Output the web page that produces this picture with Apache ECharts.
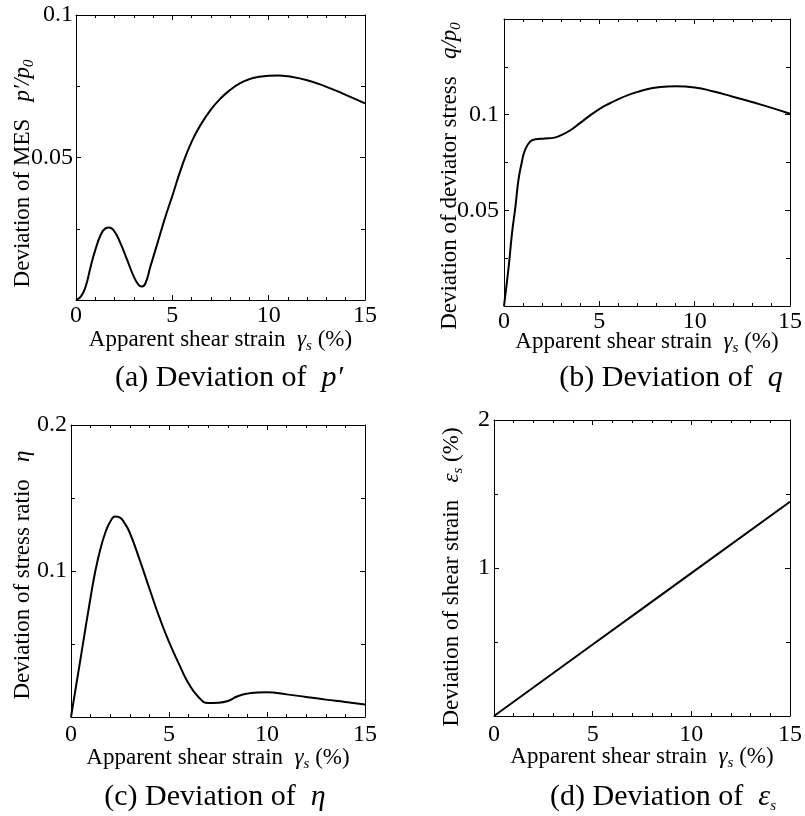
<!DOCTYPE html>
<html>
<head>
<meta charset="utf-8">
<script src="https://cdn.jsdelivr.net/npm/echarts@6/dist/echarts.min.js"></script>
<style>
html, body { margin: 0; padding: 0; background: #fff; }
#chart { width: 805px; height: 816px; }
</style>
</head>
<body>
<div id="chart"></div>
<script>
// deviation curves, x = apparent shear strain (%)
var meanStressDev = [
    [0, 0], [0.25, 0.0012], [0.5, 0.0047], [0.76, 0.0117], [1, 0.0175], [1.28, 0.0228],
    [1.53, 0.0251], [1.72, 0.0254], [2, 0.024], [2.31, 0.0199], [2.66, 0.014], [3, 0.0082],
    [3.25, 0.0053], [3.4, 0.0047], [3.6, 0.0058], [3.86, 0.0117], [4.12, 0.0175], [4.38, 0.0234],
    [4.64, 0.0292], [4.9, 0.0345], [5, 0.0365], [5.5, 0.047], [6, 0.0555], [6.5, 0.0618],
    [7, 0.0668], [7.5, 0.0707], [8, 0.0737], [8.5, 0.076], [9, 0.0775], [9.5, 0.0783],
    [10, 0.0787], [10.5, 0.0788], [11, 0.0785], [12, 0.0771], [13, 0.0748], [14, 0.072], [15, 0.069]
];
var deviatorDev = [
    [0, 0], [0.25, 0.021], [0.42, 0.038], [0.6, 0.052], [0.76, 0.066], [0.94, 0.0754],
    [1.1, 0.0815], [1.37, 0.0859], [1.65, 0.0871], [2.15, 0.0875], [2.65, 0.088], [3, 0.0893],
    [3.5, 0.092], [4, 0.0957], [4.5, 0.0995], [5, 0.1029], [5.5, 0.1057], [6, 0.1081],
    [6.5, 0.1102], [7, 0.1119], [7.5, 0.1133], [8, 0.1142], [9, 0.1148], [10, 0.1142],
    [11, 0.1121], [12, 0.1094], [13, 0.1066], [14, 0.1037], [15, 0.1005]
];
var stressRatioDev = [
    [0, 0], [0.5, 0.041], [1, 0.082], [1.25, 0.1005], [1.5, 0.115], [1.75, 0.1262],
    [2, 0.1337], [2.25, 0.1374], [2.5, 0.1366], [2.75, 0.1325], [3, 0.1262], [3.5, 0.1078],
    [4, 0.088], [4.5, 0.0686], [5, 0.0514], [5.5, 0.0366], [6, 0.0229], [6.5, 0.0137],
    [7, 0.0096], [7.5, 0.0098], [8, 0.011], [8.5, 0.0142], [9, 0.016], [9.5, 0.0167],
    [10, 0.0169], [11, 0.0155], [12, 0.0137], [13, 0.0119], [14, 0.0103], [15, 0.0085]
];
var shearStrainDev = [[0, 0], [5, 0.483], [10, 0.965], [15, 1.4475]];

var xTicks = [0, 5, 10, 15];
var captions = ['(a) Deviation of  ', '(b) Deviation of  ', '(c) Deviation of  ', '(d) Deviation of  '];

var serif = '"Liberation Serif", "Times New Roman", serif';
var rich = {
    t: { fontFamily: serif, fontSize: 23, color: '#000', lineHeight: 28 },
    i: { fontFamily: serif, fontStyle: 'italic', fontSize: 23, color: '#000', lineHeight: 28 },
    s: { fontFamily: serif, fontStyle: 'italic', fontSize: 15, color: '#000', lineHeight: 15, verticalAlign: 'bottom' }
};
var capRich = {
    t: { fontFamily: serif, fontSize: 30, color: '#000', lineHeight: 34 },
    i: { fontFamily: serif, fontStyle: 'italic', fontSize: 30, color: '#000', lineHeight: 34 },
    s: { fontFamily: serif, fontStyle: 'italic', fontSize: 15, color: '#000', lineHeight: 15, verticalAlign: 'bottom' }
};
var xTitle = '{t|Apparent shear strain  }{i|γ}{s|s}{t| (%)}';

var panels = [
    { grid: { left: 76, top: 15, width: 289, height: 285 }, data: meanStressDev,
      yMax: 0.1, yStep: 0.05, yName: '{t|Deviation of MES   }{i|p′/p}{s|0}', yGap: 39, yPad: [0, 32, 0, 0],
      yMargin: 3, xMargin: 4, xGap: 26, cap: { x: 229, y: 378, text: '{t|' + captions[0] + '}{i|p′}' } },
    { grid: { left: 504, top: 19, width: 288, height: 287 }, data: deviatorDev,
      yMax: 0.15, yStep: 0.05, yName: '{t|Deviation of deviator stress   }{i|q/p}{s|0}', yGap: 40, yPad: [0, 27, 0, 0],
      yMargin: 5, xMargin: 4, xGap: 22, cap: { x: 671, y: 378, text: '{t|' + captions[1] + '}{i|q}' } },
    { grid: { left: 71, top: 425, width: 294, height: 292 }, data: stressRatioDev,
      yMax: 0.2, yStep: 0.1, yName: '{t|Deviation of stress ratio   }{i|η}', yGap: 34, yPad: [0, 8, 0, 0],
      yMargin: 4, xMargin: 6, xGap: 27, cap: { x: 215, y: 797, text: '{t|' + captions[2] + '}{i|η}' } },
    { grid: { left: 494, top: 420, width: 297, height: 296 }, data: shearStrainDev,
      yMax: 2, yStep: 1, yName: '{t|Deviation of shear strain   }{i|ε}{s|s}{t| (%)}', yGap: 28, yPad: [0, 18, 0, 0],
      yMargin: 4, xMargin: 7, xGap: 27, cap: { x: 663, y: 797, text: '{t|' + captions[3] + '}{i|ε}{s|s}' } }
];

var grids = [], xAxes = [], yAxes = [], series = [], graphics = [];
var tick = { inside: true, length: 5, lineStyle: { color: '#000', width: 1 } };
var axisLine = { show: true, onZero: false, lineStyle: { color: '#000', width: 1 } };
var labelStyle = { fontFamily: serif, fontSize: 24, color: '#000' };

panels.forEach(function (p, g) {
    grids.push(Object.assign({ show: false, containLabel: false }, p.grid));
    // k = 0: bottom / left axes with labels, k = 1: mirrored top / right frame
    [0, 1].forEach(function (k) {
        xAxes.push({
            type: 'value', gridIndex: g, position: k ? 'top' : 'bottom',
            min: xTicks[0], max: xTicks[xTicks.length - 1], interval: 5,
            axisLine: axisLine, axisTick: tick,
            minorTick: { show: true, splitNumber: 5, length: 3, lineStyle: { color: '#000' } },
            splitLine: { show: false },
            axisLabel: Object.assign({ show: !k, margin: p.xMargin }, labelStyle),
            name: k ? '' : xTitle, nameLocation: 'middle', nameGap: p.xGap,
            nameMoveOverlap: false,
            nameTextStyle: { rich: rich }
        });
        yAxes.push({
            type: 'value', gridIndex: g, position: k ? 'right' : 'left',
            min: 0, max: p.yMax, interval: p.yStep,
            axisLine: axisLine, axisTick: tick,
            minorTick: { show: true, splitNumber: 2, length: 4, lineStyle: { color: '#000' } },
            splitLine: { show: false },
            axisLabel: Object.assign({
                show: !k, margin: p.yMargin,
                formatter: function (v) {
                    if (v === 0 || (p.yMax === 0.15 && v > 0.149)) return '';
                    return String(+v.toFixed(3));
                }
            }, labelStyle),
            name: k ? '' : p.yName, nameLocation: 'middle', nameGap: p.yGap, nameRotate: 90,
            nameMoveOverlap: false,
            nameTextStyle: { rich: rich, padding: p.yPad }
        });
    });
    series.push({
        type: 'line', xAxisIndex: 2 * g, yAxisIndex: 2 * g,
        data: p.data, showSymbol: false, smooth: 0.5,
        lineStyle: { color: '#000', width: 2 }
    });
    graphics.push({
        type: 'text', x: p.cap.x, y: p.cap.y,
        style: { text: p.cap.text, rich: capRich, align: 'center', verticalAlign: 'middle',
                 textAlign: 'center', textVerticalAlign: 'middle' }
    });
});

var chart = echarts.init(document.getElementById('chart'));
chart.setOption({
    backgroundColor: '#fff',
    animation: false,
    grid: grids,
    xAxis: xAxes,
    yAxis: yAxes,
    series: series,
    graphic: graphics
});
</script>
</body>
</html>
